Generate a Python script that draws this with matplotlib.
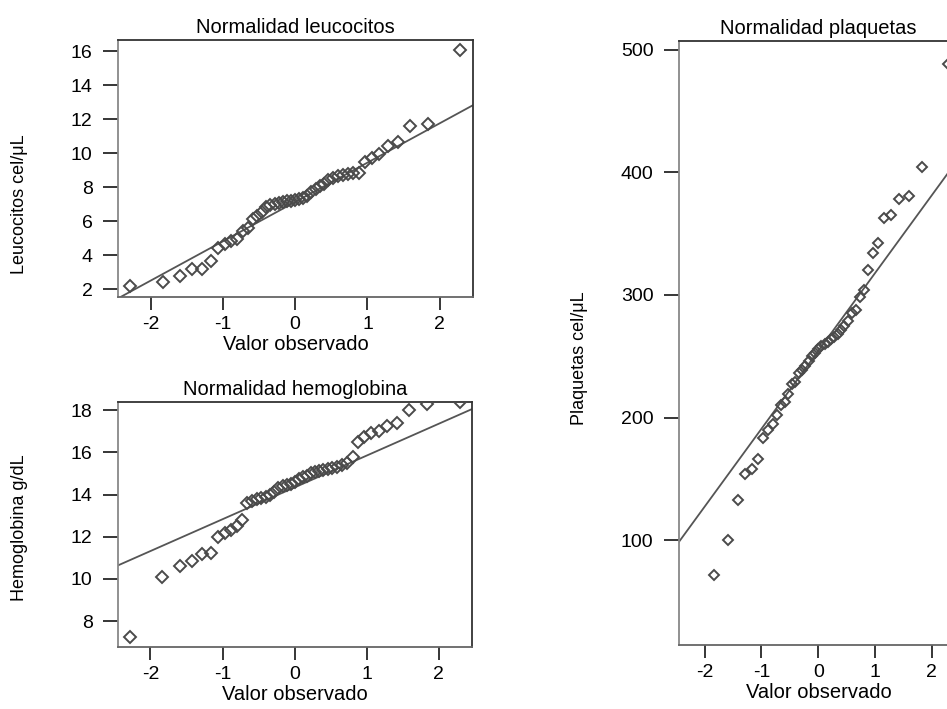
import matplotlib
matplotlib.use("Agg")
import matplotlib.pyplot as plt

plt.rcParams['font.family'] = ['Liberation Sans', 'DejaVu Sans']

cuantiles = [-2.287, -1.834, -1.593, -1.420, -1.282, -1.164, -1.060, -0.967, -0.882,
             -0.803, -0.728, -0.657, -0.589, -0.524, -0.461, -0.400, -0.341, -0.282,
             -0.225, -0.168, -0.112, -0.056, 0.0, 0.056, 0.112, 0.168, 0.225, 0.282,
             0.341, 0.400, 0.461, 0.524, 0.589, 0.657, 0.728, 0.803, 0.882, 0.967,
             1.060, 1.164, 1.282, 1.420, 1.593, 1.834, 2.287]

leucocitos = [2.15, 2.4, 2.75, 3.15, 3.15, 3.65, 4.4, 4.65, 4.85, 4.95, 5.4, 5.6, 6.1,
              6.3, 6.55, 6.8, 6.95, 7.0, 7.05, 7.1, 7.15, 7.2, 7.25, 7.3, 7.35, 7.5,
              7.7, 7.9, 8.05, 8.2, 8.4, 8.55, 8.65, 8.7, 8.75, 8.8, 8.85, 9.5, 9.7,
              9.95, 10.4, 10.65, 11.6, 11.7, 16.05]

hemoglobina = [7.25, 10.1, 10.6, 10.85, 11.2, 11.25, 12.0, 12.2, 12.3, 12.5, 12.8,
               13.6, 13.7, 13.8, 13.85, 13.9, 14.0, 14.1, 14.3, 14.4, 14.45, 14.5,
               14.6, 14.75, 14.85, 14.9, 15.0, 15.05, 15.1, 15.15, 15.2, 15.25, 15.3,
               15.4, 15.5, 15.8, 16.5, 16.75, 16.9, 17.0, 17.25, 17.4, 18.0, 18.3, 18.4]

# el primer punto de plaquetas queda fuera del grafico
plaquetas = [72, 100, 133, 154, 158, 166, 183, 190, 195, 202, 210, 213, 219, 227,
             229, 236, 239, 242, 246, 250, 253, 256, 258, 260, 262, 264, 266, 268,
             271, 275, 279, 285, 288, 298, 304, 320, 334, 342, 363, 365, 378, 381,
             404, 488]

# rectas de referencia (ordenada, pendiente)
recta_leuco = (7.12, 2.315)
recta_hemo = (14.34, 1.51)
recta_plaq = (254.3, 63.5)

W, H = 947, 709
fs = 14.5      # titulos y etiqueta x
fs_tick = 14
fs_ylab = 13


def rect(left, top, right, bottom):
    return [left / W, 1 - bottom / H, (right - left) / W, (bottom - top) / H]


def panel(ax, x, y, recta, ylim, yticks, title, ylabel_pos, ylabel, ms):
    a, b = recta
    xs = [-2.6, 2.6]
    ax.plot(xs, [a + b * v for v in xs], color='#555555', lw=1.3, zorder=2)
    ax.plot(x, y, linestyle='none', marker='D', ms=ms, mfc='none', mec='#4a4a4a',
            mew=1.4, zorder=3)
    ax.set_xlim(-2.45, 2.46)
    ax.set_ylim(*ylim)
    ax.set_xticks([-2, -1, 0, 1, 2])
    ax.set_xticklabels(['-2', '-1', '0', '1', '2'])
    ax.set_yticks(yticks)
    ax.tick_params(axis='x', direction='out', length=9.4, width=1.1, pad=4.5,
                   labelsize=fs_tick)
    ax.tick_params(axis='y', direction='out', length=10.8, width=1.1, pad=7.5,
                   labelsize=fs_tick)
    ax.set_title(title, fontsize=fs, pad=5)
    ax.set_xlabel('Valor observado', fontsize=fs, labelpad=1.5)
    for s in ['top', 'right']:
        ax.spines[s].set_color('#333333')
    ax.spines['left'].set_color('#888888')
    ax.spines['bottom'].set_color('#666666')
    for s in ax.spines.values():
        s.set_linewidth(1.3)
    fig.text(ylabel_pos[0] / W, 1 - ylabel_pos[1] / H, ylabel, rotation=90,
             ha='center', va='center', fontsize=fs_ylab)


fig = plt.figure(figsize=(W / 100, H / 100), dpi=100)

ax1 = fig.add_axes(rect(118, 40, 473, 297))
panel(ax1, cuantiles, leucocitos, recta_leuco, (1.53, 16.65),
      [2, 4, 6, 8, 10, 12, 14, 16], 'Normalidad leucocitos', (19, 204),
      'Leucocitos cel/μL', 6.5)

ax2 = fig.add_axes(rect(118, 402, 472, 647))
panel(ax2, cuantiles, hemoglobina, recta_hemo, (6.77, 18.39),
      [8, 10, 12, 14, 16, 18], 'Normalidad hemoglobina', (19, 528),
      'Hemoglobina g/dL', 6.5)

ax3 = fig.add_axes(rect(679, 41, 958, 645))
panel(ax3, cuantiles[1:], plaquetas, recta_plaq, (14.6, 507),
      [100, 200, 300, 400, 500], 'Normalidad plaquetas', (579, 358),
      'Plaquetas cel/μL', 5)

fig.savefig('out.png', dpi=100)
